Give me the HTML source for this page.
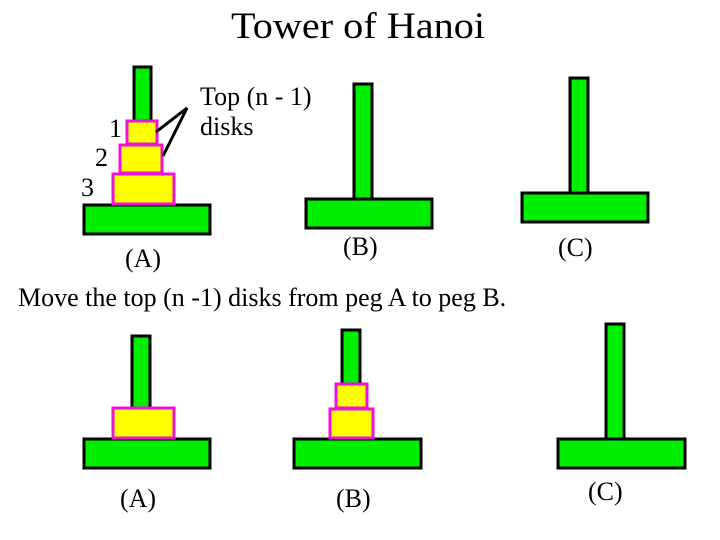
<!DOCTYPE html>
<html><head><meta charset="utf-8"><style>html,body{margin:0;padding:0;background:#fff}svg{display:block}text{font-family:"Liberation Serif",serif;fill:#000}</style></head><body>
<svg width="720" height="540" viewBox="0 0 720 540" xmlns="http://www.w3.org/2000/svg">
<text x="231" y="38" font-size="37" textLength="254" lengthAdjust="spacingAndGlyphs">Tower of Hanoi</text>
<g stroke="#000" stroke-width="3" fill="#00ee00">
<rect x="134" y="67" width="17" height="54"/>
<rect x="84" y="205" width="126" height="29"/>
<rect x="354" y="84" width="18" height="115"/>
<rect x="306" y="199" width="126" height="29"/>
<rect x="570" y="78" width="18" height="115"/>
<rect x="522" y="193" width="126" height="29"/>
<rect x="132" y="336" width="18" height="72"/>
<rect x="84" y="439" width="126" height="29"/>
<rect x="342" y="330" width="18" height="54"/>
<rect x="294" y="439" width="127" height="29"/>
<rect x="606" y="324" width="18" height="115"/>
<rect x="558" y="439" width="127" height="29"/>
</g>
<g stroke="#ee10dd" stroke-width="3" fill="#ffff00">
<rect x="127" y="121" width="30" height="23"/>
<rect x="120" y="145" width="42" height="28"/>
<rect x="113" y="174" width="61" height="30"/>
<rect x="113" y="408" width="61" height="30"/>
<rect x="336" y="384" width="31" height="24"/>
<rect x="330" y="409" width="43" height="29"/>
</g>
<polyline points="156,132 187,108 163,156" fill="none" stroke="#000" stroke-width="3"/>
<g font-size="26">
<text x="200" y="105">Top (n - 1)</text>
<text x="200" y="135">disks</text>
<text x="109" y="137">1</text>
<text x="95" y="166">2</text>
<text x="81" y="196">3</text>
<text x="125" y="267">(A)</text>
<text x="343" y="255">(B)</text>
<text x="558" y="256">(C)</text>
<text x="18" y="306">Move the top (n -1) disks from peg A to peg B.</text>
<text x="120" y="507">(A)</text>
<text x="336" y="507">(B)</text>
<text x="588" y="500">(C)</text>
</g>
</svg>
</body></html>
